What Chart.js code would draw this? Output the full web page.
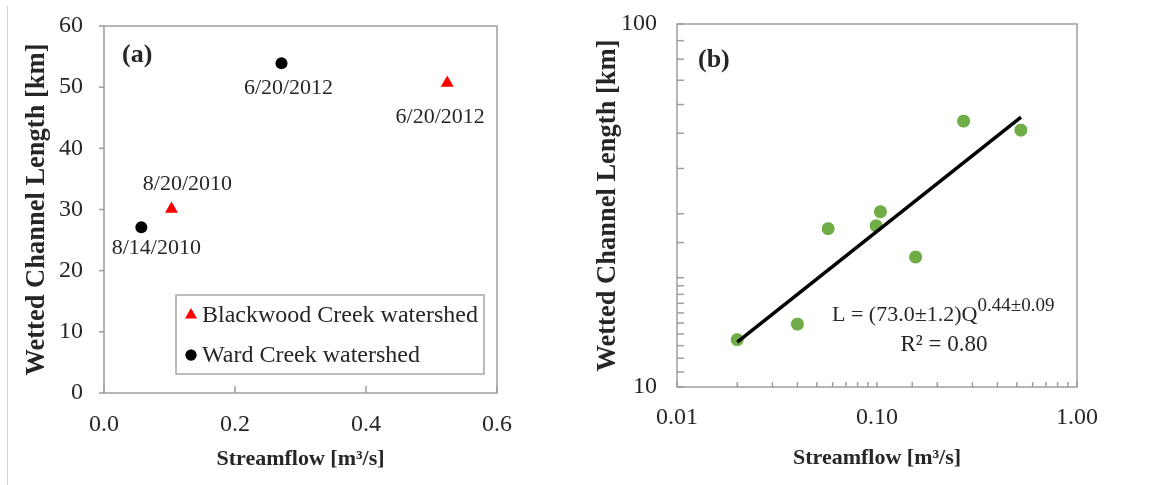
<!DOCTYPE html>
<html lang="en">
<head>
    <meta charset="UTF-8">
    <title>Wetted channel length vs streamflow</title>
    <style>
        body { margin: 0; background: #fff; }
        .panel { position: absolute; top: 0; height: 485px; }
    </style>
</head>
<body>

<div class="panel" style="left: 0; width: 580px;"><canvas id="chartA"></canvas></div>
<div class="panel" style="left: 580px; width: 574px;"><canvas id="chartB"></canvas></div>

<script src="https://cdn.jsdelivr.net/npm/chart.js"></script>

<script>
    // panel (a) - the two watersheds
    const blackwoodQ = [0.103, 0.524]
    const blackwoodL = [30.1, 50.7]
    const blackwoodDates = ['8/20/2010', '6/20/2012']
    const wardQ = [0.057, 0.271]
    const wardL = [27.1, 53.9]
    const wardDates = ['8/14/2010', '6/20/2012']
    const xTicksA = [0, 0.2, 0.4, 0.6]
    const yTicksA = [0, 10, 20, 30, 40, 50, 60]

    // panel (b) - all surveys, log-log
    const allQ = [0.020, 0.040, 0.057, 0.099, 0.104, 0.156, 0.271, 0.524]
    const allL = [13.5, 14.9, 27.3, 27.8, 30.4, 22.8, 54.0, 51.0]
    const fitQ = [0.020, 0.525]
    const fitL = [13.3, 55.4]
    const equation = 'L = (73.0\u00b11.2)Q'
    const equationExp = '0.44\u00b10.09'
    const rSquared = 'R\u00b2 = 0.80'

    const serif = 'Liberation Serif'
    const textColor = '#262626'
    const axisGray = '#9e9e9e'

    const pts = (xs, ys) => xs.map((x, i) => ({x: x, y: ys[i]}))

    function tickLine(ctx, x1, y1, x2, y2) {
        ctx.beginPath()
        ctx.moveTo(x1, y1)
        ctx.lineTo(x2, y2)
        ctx.stroke()
    }

    // fixed axis box, and no extra padding asked of the layout
    function fixBox(s, size) {
        if (s.isHorizontal()) s.height = size
        else s.width = size
        s.paddingTop = 0
        s.paddingBottom = 0
        s.paddingLeft = 0
        s.paddingRight = 0
    }

    const panelA = {
        id: 'panelA',
        beforeDatasetsDraw(chart) {
            const ctx = chart.ctx
            const ca = chart.chartArea
            const x = chart.scales.x, y = chart.scales.y
            ctx.save()
            // faint frame line on the far left
            ctx.strokeStyle = '#d4d4d4'
            ctx.lineWidth = 1
            tickLine(ctx, 7.5, 6, 7.5, 485)
            ctx.strokeStyle = axisGray
            ctx.lineWidth = 1.5
            ctx.strokeRect(ca.left, ca.top, ca.right - ca.left, ca.bottom - ca.top)
            xTicksA.forEach(v => {
                const px = x.getPixelForValue(v)
                tickLine(ctx, px, ca.bottom, px, ca.bottom - 7)
            })
            yTicksA.forEach(v => {
                const py = y.getPixelForValue(v)
                tickLine(ctx, ca.left - 5, py, ca.left, py)
            })
            ctx.restore()
        },
        afterDatasetsDraw(chart) {
            const ctx = chart.ctx
            const ca = chart.chartArea
            const x = chart.scales.x, y = chart.scales.y
            ctx.save()
            ctx.fillStyle = textColor
            ctx.textAlign = 'center'
            ctx.textBaseline = 'middle'
            ctx.font = '22px "' + serif + '"'
            // label offsets from each marker
            const offB = [[16, -25], [-7, 34]]
            const offW = [[15, 21], [7, 25]]
            blackwoodDates.forEach((d, i) => {
                ctx.fillText(d, x.getPixelForValue(blackwoodQ[i]) + offB[i][0], y.getPixelForValue(blackwoodL[i]) + offB[i][1])
            })
            wardDates.forEach((d, i) => {
                ctx.fillText(d, x.getPixelForValue(wardQ[i]) + offW[i][0], y.getPixelForValue(wardL[i]) + offW[i][1])
            })

            ctx.font = 'bold 26px "' + serif + '"'
            ctx.textAlign = 'left'
            ctx.fillText('(a)', ca.left + 18, ca.top + 29)

            // legend box
            const lx = ca.left + 72, ly = ca.top + 269, lw = 308, lh = 79
            ctx.fillStyle = '#fff'
            ctx.fillRect(lx, ly, lw, lh)
            ctx.strokeStyle = '#a6a6a6'
            ctx.lineWidth = 1.5
            ctx.strokeRect(lx, ly, lw, lh)
            chart.data.datasets.forEach((ds, i) => {
                const cy = ly + 20 + i * 40
                Chart.helpers.drawPoint(ctx, {
                    pointStyle: ds.pointStyle, radius: ds.pointStyle === 'triangle' ? 7 : 5.5,
                    borderWidth: 0, rotation: 0
                }, lx + 15, cy)
                ctx.fillStyle = ds.backgroundColor
                ctx.fill()
                ctx.fillStyle = textColor
                ctx.font = '24px "' + serif + '"'
                ctx.fillText(ds.label, lx + 26, cy + 1)
            })
            ctx.restore()
        }
    }

    const panelB = {
        id: 'panelB',
        beforeDatasetsDraw(chart) {
            const ctx = chart.ctx
            const ca = chart.chartArea
            const x = chart.scales.x, y = chart.scales.y
            ctx.save()
            ctx.strokeStyle = axisGray
            ctx.lineWidth = 1.5
            ctx.strokeRect(ca.left, ca.top, ca.right - ca.left, ca.bottom - ca.top)
            x.ticks.forEach(t => {
                const px = x.getPixelForValue(t.value)
                tickLine(ctx, px, ca.bottom, px, ca.bottom - 5)
            })
            y.ticks.forEach(t => {
                const py = y.getPixelForValue(t.value)
                tickLine(ctx, ca.left, py, ca.left + 7, py)
            })
            ctx.restore()
        },
        afterDatasetsDraw(chart) {
            const ctx = chart.ctx
            const ca = chart.chartArea
            ctx.save()
            ctx.fillStyle = textColor
            ctx.textBaseline = 'middle'
            ctx.textAlign = 'left'
            ctx.font = 'bold 26px "' + serif + '"'
            ctx.fillText('(b)', ca.left + 21, ca.top + 36)

            ctx.font = '22px "' + serif + '"'
            const ex = ca.left + 155, ey = ca.top + 291
            ctx.fillText(equation, ex, ey)
            const w = ctx.measureText(equation).width
            ctx.font = '19px "' + serif + '"'
            ctx.fillText(equationExp, ex + w, ey - 9)
            ctx.font = '23px "' + serif + '"'
            ctx.textAlign = 'center'
            ctx.fillText(rSquared, ca.left + 267, ca.top + 321)
            ctx.restore()
        }
    }

    const tickFont = {family: serif, size: 24}
    const titleFont = {family: serif, size: 22, weight: 'bold'}
    const yTitleFont = {family: serif, size: 26.5, weight: 'bold'}

    new Chart(document.getElementById('chartA'), {
        type: 'scatter',
        data: {
            datasets: [{
                label: 'Blackwood Creek watershed',
                data: pts(blackwoodQ, blackwoodL),
                pointStyle: 'triangle',
                pointRadius: 7.5,
                backgroundColor: '#ff0000',
                borderColor: '#ff0000',
                borderWidth: 0
            }, {
                label: 'Ward Creek watershed',
                data: pts(wardQ, wardL),
                pointStyle: 'circle',
                pointRadius: 6,
                backgroundColor: '#000000',
                borderColor: '#000000',
                borderWidth: 0
            }]
        },
        options: {
            responsive: true,
            maintainAspectRatio: false,
            animation: false,
            layout: {autoPadding: false, padding: {left: 0, right: 83, top: 26, bottom: 0}},
            plugins: {legend: {display: false}, tooltip: {enabled: false}},
            scales: {
                x: {
                    type: 'linear', min: 0, max: 0.6,
                    grid: {display: false, drawTicks: false},
                    border: {display: false},
                    afterBuildTicks: s => { s.ticks = xTicksA.map(v => ({value: v})) },
                    afterFit: s => fixBox(s, 92),
                    ticks: {font: tickFont, color: textColor, padding: 17, maxRotation: 0,
                        callback: v => v.toFixed(1)},
                    title: {display: true, text: 'Streamflow [m\u00b3/s]', font: titleFont, color: textColor,
                        padding: {top: 0, bottom: 12}}
                },
                y: {
                    type: 'linear', min: 0, max: 60,
                    grid: {display: false, drawTicks: false},
                    border: {display: false},
                    afterBuildTicks: s => { s.ticks = yTicksA.map(v => ({value: v})) },
                    afterFit: s => fixBox(s, 104),
                    ticks: {font: tickFont, color: textColor, padding: 21},
                    title: {display: true, text: 'Wetted Channel Length [km]', font: yTitleFont, color: textColor,
                        padding: {top: 21, bottom: 0}}
                }
            }
        },
        plugins: [panelA]
    });

    const isDecade = v => Math.abs(Math.log10(v) - Math.round(Math.log10(v))) < 1e-6

    new Chart(document.getElementById('chartB'), {
        type: 'scatter',
        data: {
            datasets: [{
                label: 'fit',
                type: 'line',
                data: pts(fitQ, fitL),
                borderColor: '#000000',
                borderWidth: 3.5,
                pointRadius: 0,
                showLine: true,
                fill: false
            }, {
                label: 'all surveys',
                data: pts(allQ, allL),
                pointStyle: 'circle',
                pointRadius: 7,
                backgroundColor: '#70ad47',
                borderColor: '#ffffff',
                borderWidth: 1
            }]
        },
        options: {
            responsive: true,
            maintainAspectRatio: false,
            animation: false,
            layout: {autoPadding: false, padding: {left: 0, right: 77, top: 24, bottom: 0}},
            plugins: {legend: {display: false}, tooltip: {enabled: false}},
            scales: {
                x: {
                    type: 'logarithmic', min: 0.01, max: 1,
                    grid: {display: false, drawTicks: false},
                    border: {display: false},
                    afterFit: s => fixBox(s, 98),
                    ticks: {font: tickFont, color: textColor, padding: 16, maxRotation: 0, autoSkip: false,
                        callback: v => isDecade(v) ? Number(v).toFixed(2) : ''},
                    title: {display: true, text: 'Streamflow [m\u00b3/s]', font: titleFont, color: textColor,
                        padding: {top: 0, bottom: 13}}
                },
                y: {
                    type: 'logarithmic', min: 10, max: 100,
                    grid: {display: false, drawTicks: false},
                    border: {display: false},
                    afterFit: s => fixBox(s, 97),
                    ticks: {font: tickFont, color: textColor, padding: 20, autoSkip: false,
                        callback: v => isDecade(v) ? String(Math.round(v)) : ''},
                    title: {display: true, text: 'Wetted Channel Length [km]', font: yTitleFont, color: textColor,
                        padding: {top: 12, bottom: 0}}
                }
            }
        },
        plugins: [panelB]
    });
</script>
</body>
</html>
